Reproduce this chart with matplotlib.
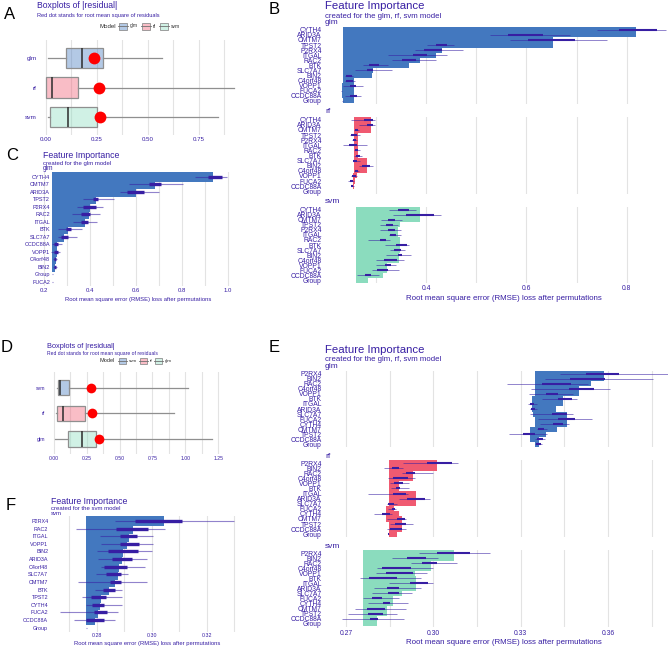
# Residual boxplots (A, D) and permutation feature importance (B, C, E, F)
# for the glm / rf / svm models, redrawn as one 669x651 figure.

import numpy as np
import matplotlib
matplotlib.use('Agg')
import matplotlib.pyplot as plt
from matplotlib.colors import to_rgba
from matplotlib.patches import Rectangle
from matplotlib.lines import Line2D

plt.rcParams['font.family'] = ['Liberation Sans', 'DejaVu Sans']

W, H = 669, 651
INK = '#371ea3'
GRID = '#e3e3e3'
PALETTE = ['#4378bf', '#f05a71', '#8bdcbe']

# ---- A / D : boxplots of |residual|, each row = [whisker low, q1, median, q3, whisker high]
models_a = ['glm', 'rf', 'svm']
resid_a = [[0.014, 0.100, 0.177, 0.280, 0.570],
           [0.001, 0.001, 0.033, 0.158, 0.925],
           [0.014, 0.022, 0.109, 0.251, 0.847]]
rmse_a = [0.239, 0.262, 0.267]

models_d = ['svm', 'rf', 'glm']
resid_d = [[0.020, 0.028, 0.046, 0.114, 1.018],
           [0.018, 0.025, 0.066, 0.236, 0.914],
           [0.008, 0.104, 0.211, 0.320, 1.200]]
rmse_d = [0.279, 0.292, 0.343]

# ---- B : feature importance for glm, rf, svm (loss after permutation + [min, q1, q3, max])
features_b = ['CYTH4', 'ARID3A', 'CMTM7', 'TPST2', 'P2RX4', 'ITGAL', 'RAC2', 'BTK',
              'SLC7A7', 'BIN2', 'C4orf48', 'VOPP1', 'FUCA2', 'CCDC88A', 'Group']
base_b = {'glm': 0.234, 'rf': 0.2572, 'svm': 0.2606}
loss_b_glm = [0.818, 0.600, 0.652, 0.431, 0.419, 0.388, 0.366, 0.295, 0.292, 0.255,
              0.255, 0.256, 0.232, 0.256, 0.234]
box_b_glm = [[0.740, 0.785, 0.860, 0.879], [0.527, 0.564, 0.634, 0.687],
             [0.567, 0.604, 0.697, 0.761], [0.401, 0.420, 0.441, 0.456],
             [0.378, 0.397, 0.431, 0.473], [0.325, 0.375, 0.401, 0.441],
             [0.332, 0.352, 0.381, 0.420], [0.275, 0.287, 0.307, 0.325],
             [0.259, 0.282, 0.295, 0.332], [0.239, 0.240, 0.252, 0.255],
             [0.239, 0.241, 0.255, 0.259], [0.235, 0.249, 0.261, 0.274],
             [0.231, 0.232, 0.2325, 0.233], [0.239, 0.249, 0.262, 0.270],
             [0.233, 0.234, 0.2345, 0.235]]
loss_b_rf = [0.286, 0.2898, 0.265, 0.262, 0.263, 0.264, 0.265, 0.264, 0.262, 0.2819,
             0.2625, 0.259, 0.2545, 0.256, 0.2572]
box_b_rf = [[0.250, 0.2765, 0.295, 0.2984], [0.2671, 0.2831, 0.295, 0.2984],
            [0.2566, 0.2586, 0.2651, 0.2671], [0.2486, 0.2499, 0.2619, 0.2685],
            [0.2519, 0.2539, 0.2606, 0.2619], [0.2353, 0.2466, 0.2632, 0.2819],
            [0.2566, 0.2586, 0.2651, 0.2685], [0.2566, 0.2599, 0.2685, 0.2717],
            [0.2539, 0.2552, 0.2632, 0.2685], [0.2671, 0.2719, 0.2884, 0.2937],
            [0.2566, 0.2586, 0.2651, 0.2671], [0.2506, 0.2519, 0.2606, 0.2619],
            [0.2453, 0.2486, 0.2552, 0.2566], [0.2499, 0.2506, 0.2552, 0.2566],
            [0.2562, 0.2566, 0.2568, 0.2570]]
loss_b_svm = [0.356, 0.388, 0.348, 0.345, 0.345, 0.344, 0.315, 0.348, 0.344, 0.347,
              0.323, 0.322, 0.3137, 0.2839, 0.2606]
box_b_svm = [[0.3269, 0.3448, 0.3667, 0.3801], [0.3349, 0.3602, 0.4159, 0.4293],
             [0.3104, 0.3237, 0.3382, 0.3516], [0.3084, 0.3203, 0.3336, 0.3448],
             [0.3084, 0.3237, 0.3382, 0.3502], [0.3256, 0.3276, 0.3409, 0.3502],
             [0.2851, 0.3084, 0.3197, 0.3283], [0.3183, 0.3402, 0.3616, 0.3667],
             [0.3283, 0.3369, 0.3496, 0.3582], [0.3203, 0.3448, 0.3515, 0.3695],
             [0.3004, 0.3163, 0.3416, 0.3562], [0.3004, 0.3183, 0.3297, 0.3402],
             [0.2918, 0.3017, 0.3237, 0.3468], [0.2632, 0.2785, 0.2904, 0.3064],
             [0.2604, 0.2606, 0.2607, 0.2608]]

# ---- C : feature importance, glm only
features_c = ['CYTH4', 'CMTM7', 'ARID3A', 'TPST2', 'P2RX4', 'RAC2', 'ITGAL', 'BTK',
              'SLC7A7', 'CCDC88A', 'VOPP1', 'C4orf48', 'BIN2', 'Group', 'FUCA2']
base_c = 0.236
loss_c = [0.936, 0.683, 0.600, 0.425, 0.400, 0.396, 0.378, 0.303, 0.288, 0.255,
          0.255, 0.250, 0.248, 0.2365, 0.236]
box_c = [[0.857, 0.914, 0.972, 0.994], [0.570, 0.657, 0.707, 0.803],
         [0.530, 0.559, 0.635, 0.700], [0.371, 0.414, 0.433, 0.504],
         [0.342, 0.371, 0.425, 0.455], [0.320, 0.360, 0.400, 0.443],
         [0.328, 0.360, 0.393, 0.429], [0.262, 0.296, 0.316, 0.364],
         [0.262, 0.274, 0.306, 0.342], [0.236, 0.243, 0.261, 0.277],
         [0.230, 0.245, 0.259, 0.270], [0.240, 0.245, 0.252, 0.256],
         [0.241, 0.244, 0.252, 0.256], [0.2355, 0.236, 0.2365, 0.237],
         [0.2355, 0.236, 0.2365, 0.237]]

# ---- E : feature importance for glm, rf, svm (second data set)
features_e = ['P2RX4', 'BIN2', 'RAC2', 'C4orf48', 'VOPP1', 'BTK', 'ITGAL', 'ARID3A',
              'SLC7A7', 'FUCA2', 'CYTH4', 'CMTM7', 'TPST2', 'CCDC88A', 'Group']
base_e = {'glm': 0.3350, 'rf': 0.2846, 'svm': 0.2759}
loss_e_glm = [0.3587, 0.3540, 0.3420, 0.3501, 0.3410, 0.3444, 0.3338, 0.3343, 0.3421,
              0.3458, 0.3423, 0.3385, 0.3330, 0.3364, 0.3352]
box_e_glm = [[0.3435, 0.3524, 0.3638, 0.3806], [0.3383, 0.3469, 0.3589, 0.3755],
             [0.3252, 0.3372, 0.3473, 0.3531], [0.3334, 0.3466, 0.3551, 0.3606],
             [0.3329, 0.3387, 0.3429, 0.3480], [0.3372, 0.3429, 0.3475, 0.3494],
             [0.3326, 0.3332, 0.3345, 0.3355], [0.3332, 0.3335, 0.3350, 0.3357],
             [0.3332, 0.3406, 0.3458, 0.3480], [0.3360, 0.3429, 0.3486, 0.3545],
             [0.3366, 0.3411, 0.3444, 0.3466], [0.3355, 0.3360, 0.3380, 0.3389],
             [0.3261, 0.3309, 0.3349, 0.3389], [0.3349, 0.3357, 0.3377, 0.3383],
             [0.3349, 0.3351, 0.3368, 0.3372]]
loss_e_rf = [0.3014, 0.2868, 0.2929, 0.2880, 0.2883, 0.2878, 0.2880, 0.2940, 0.2856,
             0.2865, 0.2838, 0.2883, 0.2892, 0.2874, 0.2846]
box_e_rf = [[0.2895, 0.2979, 0.3065, 0.3086], [0.2832, 0.2857, 0.2882, 0.2897],
            [0.2891, 0.2906, 0.2937, 0.3000], [0.2843, 0.2862, 0.2914, 0.2937],
            [0.2851, 0.2866, 0.2895, 0.2917], [0.2853, 0.2871, 0.2885, 0.2917],
            [0.2774, 0.2862, 0.2905, 0.2914], [0.2883, 0.2908, 0.2971, 0.2988],
            [0.2840, 0.2845, 0.2866, 0.2876], [0.2843, 0.2857, 0.2868, 0.2872],
            [0.2796, 0.2825, 0.2851, 0.2857], [0.2840, 0.2876, 0.2903, 0.2906],
            [0.2851, 0.2868, 0.2905, 0.2929], [0.2840, 0.2851, 0.2891, 0.2906],
            [0.2844, 0.2845, 0.2846, 0.2847]]
loss_e_svm = [0.3071, 0.2945, 0.2991, 0.2900, 0.2937, 0.2860, 0.2940, 0.2891, 0.2855,
              0.2860, 0.2835, 0.2840, 0.2800, 0.2805, 0.2759]
box_e_svm = [[0.2951, 0.3014, 0.3126, 0.3194], [0.2857, 0.2911, 0.2975, 0.3017],
             [0.2923, 0.2960, 0.3014, 0.3080], [0.2808, 0.2822, 0.2922, 0.2998],
             [0.2803, 0.2837, 0.2931, 0.2977], [0.2748, 0.2780, 0.2874, 0.2956],
             [0.2849, 0.2920, 0.2980, 0.2998], [0.2796, 0.2842, 0.2882, 0.2956],
             [0.2790, 0.2845, 0.2882, 0.2928], [0.2759, 0.2788, 0.2822, 0.2882],
             [0.2777, 0.2826, 0.2851, 0.2914], [0.2731, 0.2771, 0.2834, 0.2906],
             [0.2708, 0.2777, 0.2826, 0.2876], [0.2685, 0.2782, 0.2809, 0.2900],
             [0.2758, 0.2759, 0.2759, 0.2760]]

# ---- F : feature importance, svm only
features_f = ['P2RX4', 'RAC2', 'ITGAL', 'VOPP1', 'BIN2', 'ARID3A', 'C4orf48', 'SLC7A7',
              'CMTM7', 'BTK', 'TPST2', 'CYTH4', 'FUCA2', 'CCDC88A', 'Group']
base_f = 0.2761
loss_f = [0.3045, 0.2931, 0.2918, 0.2909, 0.2895, 0.2893, 0.2881, 0.2878, 0.2867,
          0.2846, 0.2816, 0.2812, 0.2806, 0.2795, 0.2762]
box_f = [[0.2867, 0.2939, 0.3109, 0.3301], [0.2725, 0.2870, 0.2985, 0.3048],
         [0.2812, 0.2885, 0.2945, 0.3006], [0.2816, 0.2885, 0.2955, 0.3006],
         [0.2800, 0.2840, 0.2949, 0.3000], [0.2806, 0.2855, 0.2930, 0.2984],
         [0.2816, 0.2828, 0.2909, 0.2976], [0.2798, 0.2834, 0.2887, 0.2915],
         [0.2733, 0.2848, 0.2887, 0.2984], [0.2794, 0.2824, 0.2867, 0.2891],
         [0.2745, 0.2778, 0.2834, 0.2891], [0.2761, 0.2784, 0.2827, 0.2891],
         [0.2667, 0.2791, 0.2839, 0.2879], [0.2718, 0.2760, 0.2828, 0.2867],
         [0.2760, 0.2761, 0.2762, 0.2763]]

XLABEL = 'Root mean square error (RMSE) loss after permutations'

fig = plt.figure(figsize=(W / 100, H / 100), dpi=100)


# axes placed by pixel box (left, top, right, bottom)
def px_axes(l, t, r, b):
    ax = fig.add_axes([l / W, 1 - b / H, (r - l) / W, (b - t) / H])
    for s in ax.spines.values():
        s.set_visible(False)
    ax.patch.set_alpha(0)
    return ax


def ftext(x, y, s, **kw):
    kw.setdefault('va', 'center')
    kw.setdefault('color', INK)
    fig.text(x / W, 1 - y / H, s, **kw)


def x_grid(ax, major, minor, fmt, show, size, pad):
    ax.set_xticks(major)
    ax.set_xticklabels([fmt.format(v) for v in major])
    ax.set_xticks(minor, minor=True)
    ax.grid(axis='x', which='both', color=GRID, lw=0.8)
    ax.set_axisbelow(True)
    ax.tick_params(axis='x', which='both', length=0, labelbottom=show,
                   labelsize=size, labelcolor=INK, pad=pad)


def residual_panel(box, models, stats, rmse, xlim, major, minor, width, dot,
                   lab_size, lab_pad, tick_size, tick_pad):
    ax = px_axes(*box)
    bst = [dict(whislo=s[0], q1=s[1], med=s[2], q3=s[3], whishi=s[4], fliers=[])
           for s in stats]
    pos = np.arange(len(models))
    bp = ax.bxp(bst, positions=pos, widths=width, orientation='horizontal',
                patch_artist=True, showcaps=False, manage_ticks=False,
                boxprops=dict(edgecolor='#8f8f8f', lw=0.9),
                whiskerprops=dict(color='#8f8f8f', lw=0.9),
                medianprops=dict(color='#2b2b2b', lw=1.1))
    for patch, c in zip(bp['boxes'], PALETTE):
        patch.set_facecolor(to_rgba(c, 0.4))
    ax.scatter(rmse, pos, s=dot ** 2, color='red', zorder=5, lw=0)
    ax.set_xlim(*xlim)
    ax.set_ylim(len(models) - 0.4, -0.6)
    ax.set_yticks(pos)
    ax.set_yticklabels(models)
    ax.tick_params(axis='y', length=0, labelsize=lab_size, labelcolor=INK, pad=lab_pad)
    x_grid(ax, major, minor, '{:.2f}', True, tick_size, tick_pad)
    return ax


def legend_keys(x0, y, labels, gap, title_size, lab_size, kw, kh):
    ftext(x0, y, 'Model', fontsize=title_size, color='#2b2b2b')
    x = x0 + 19
    for lab, c in zip(labels, PALETTE):
        fig.add_artist(Rectangle((x / W, 1 - (y + kh / 2) / H), kw / W, kh / H,
                                 facecolor=to_rgba(c, 0.4), edgecolor='#8f8f8f', lw=0.6))
        fig.add_artist(Line2D([(x - 1) / W, (x + kw + 1) / W], [1 - y / H, 1 - y / H],
                              color='#6f6f6f', lw=0.6))
        ftext(x + kw + 2.5, y, lab, fontsize=lab_size, color='#2b2b2b')
        x += gap[lab]


def fi_panel(box, labels, loss, stats, base, colour, xlim, major, minor, fmt, thick,
             lab_size, lab_pad, show_x=False, tick_size=5, tick_pad=1,
             box_lw=1.5, whisk_lw=0.7):
    ax = px_axes(*box)
    y = np.arange(len(labels))
    loss = np.asarray(loss)
    # thick bars overlap their neighbours; the longest ones are drawn last
    order = np.argsort(loss, kind='stable')
    ax.barh(y[order], loss[order] - base, left=base, height=thick, color=colour,
            lw=0, zorder=2)
    st = np.asarray(stats)
    ax.hlines(y, st[:, 0], st[:, 3], color=INK, alpha=0.55, lw=whisk_lw, zorder=3)
    ax.hlines(y, st[:, 1], st[:, 2], color=INK, lw=box_lw, zorder=4, capstyle='butt')
    ax.set_xlim(*xlim)
    ax.set_ylim(len(labels) - 0.4, -0.6)
    ax.set_yticks(y)
    ax.set_yticklabels(labels)
    ax.tick_params(axis='y', length=0, labelsize=lab_size, labelcolor=INK, pad=lab_pad)
    x_grid(ax, major, minor, fmt, show_x, tick_size, tick_pad)
    return ax


# ---------------- A
ftext(10, 14.5, 'A', fontsize=12, color='black', ha='center')
ftext(37, 6, 'Boxplots of |residual|', fontsize=6.2)
ftext(37, 15, 'Red dot stands for root mean square of residuals', fontsize=4.1)
legend_keys(100, 26, models_a, {'glm': 23, 'rf': 18, 'svm': 0}, 4.4, 3.5, 8, 7)
residual_panel((39, 40.3, 242, 134.7), models_a, resid_a, rmse_a, (-0.032, 0.963),
               [0, 0.25, 0.5, 0.75], [0.125, 0.375, 0.625, 0.875], 0.68, 8.5,
               4.6, 1.7, 4.4, 2.0)

# ---------------- D
ftext(6.5, 347, 'D', fontsize=12, color='black', ha='center')
ftext(47, 346.7, 'Boxplots of |residual|', fontsize=5.3)
ftext(47, 353.5, 'Red dot stands for root mean square of residuals', fontsize=3.6)
legend_keys(100, 361, models_d, {'svm': 21, 'rf': 15, 'glm': 0}, 4.0, 3.2, 7, 6)
residual_panel((47, 372.3, 220, 454.4), models_d, resid_d, rmse_d, (-0.053, 1.264),
               [0, 0.25, 0.5, 0.75, 1.0, 1.25],
               [0.125, 0.375, 0.625, 0.875, 1.125], 0.6, 7,
               3.7, 1.5, 3.7, 0.8)

# ---------------- B
ftext(274, 9, 'B', fontsize=12, color='black', ha='center')
ftext(325, 6, 'Feature Importance', fontsize=8.2)
ftext(325, 16, 'created for the glm, rf, svm model', fontsize=5.6)
b_boxes = {'glm': (328, 26.7, 668, 104), 'rf': (328, 116.7, 668, 194.3),
           'svm': (328, 206.7, 668, 283.3)}
b_strip = {'glm': 23, 'rf': 111.7, 'svm': 201.7}
b_data = {'glm': (loss_b_glm, box_b_glm), 'rf': (loss_b_rf, box_b_rf),
          'svm': (loss_b_svm, box_b_svm)}
for m, c in zip(['glm', 'rf', 'svm'], PALETTE):
    ftext(325, b_strip[m], m, fontsize=6)
    fi_panel(b_boxes[m], features_b, b_data[m][0], b_data[m][1], base_b[m], c,
             (0.2048, 0.882), [0.4, 0.6, 0.8], [0.3, 0.5, 0.7], '{:.1f}', 3.0,
             4.9, 4.5, show_x=(m == 'svm'), tick_size=4.9, tick_pad=1.2,
             box_lw=1.5, whisk_lw=0.7)
ftext(504, 299, XLABEL, fontsize=5.7, ha='center')

# ---------------- C
ftext(12, 155.5, 'C', fontsize=12, color='black', ha='center')
ftext(42.7, 155.7, 'Feature Importance', fontsize=6.3)
ftext(42.7, 163.5, 'created for the glm model', fontsize=4.3)
ftext(42.7, 168, 'glm', fontsize=4.7)
fi_panel((43, 172.2, 233, 286.2), features_c, loss_c, box_c, base_c, PALETTE[0],
         (0.19565, 1.0217), [0.2, 0.4, 0.6, 0.8, 1.0], [0.3, 0.5, 0.7, 0.9], '{:.1f}',
         1.4, 4.0, -5, show_x=True, tick_size=4.3, tick_pad=1.3,
         box_lw=2.4, whisk_lw=0.8)
ftext(138, 299, XLABEL, fontsize=4.25, ha='center')

# ---------------- E
ftext(274, 347.5, 'E', fontsize=12, color='black', ha='center')
ftext(325, 350, 'Feature Importance', fontsize=8.2)
ftext(325, 359.5, 'created for the glm, rf, svm model', fontsize=5.6)
e_boxes = {'glm': (328, 370.7, 668, 447.3), 'rf': (328, 460, 668, 537.3),
           'svm': (328, 550, 668, 626.7)}
e_strip = {'glm': 367, 'rf': 456, 'svm': 547}
e_data = {'glm': (loss_e_glm, box_e_glm), 'rf': (loss_e_rf, box_e_rf),
          'svm': (loss_e_svm, box_e_svm)}
for m, c in zip(['glm', 'rf', 'svm'], PALETTE):
    ftext(325, e_strip[m], m, fontsize=6)
    fi_panel(e_boxes[m], features_e, e_data[m][0], e_data[m][1], base_e[m], c,
             (0.26382, 0.38054), [0.27, 0.30, 0.33, 0.36],
             [0.285, 0.315, 0.345, 0.375], '{:.2f}', 3.0,
             4.9, 4.5, show_x=(m == 'svm'), tick_size=4.9, tick_pad=2.5,
             box_lw=1.5, whisk_lw=0.7)
ftext(504, 642.7, XLABEL, fontsize=5.7, ha='center')

# ---------------- F
ftext(11, 505.5, 'F', fontsize=12, color='black', ha='center')
ftext(50.7, 501.7, 'Feature Importance', fontsize=6.3)
ftext(50.7, 508.7, 'created for the svm model', fontsize=4.3)
ftext(50.7, 513.7, 'svm', fontsize=4.3)
fi_panel((51, 516.4, 236, 632.3), features_f, loss_f, box_f, base_f, PALETTE[0],
         (0.26338, 0.33065), [0.28, 0.30, 0.32], [0.27, 0.29, 0.31, 0.33], '{:.2f}',
         1.4, 3.9, 2, show_x=True, tick_size=3.8, tick_pad=0.8,
         box_lw=2.4, whisk_lw=0.8)
ftext(147.3, 643.3, XLABEL, fontsize=4.25, ha='center')

fig.savefig('out.png', dpi=100)
